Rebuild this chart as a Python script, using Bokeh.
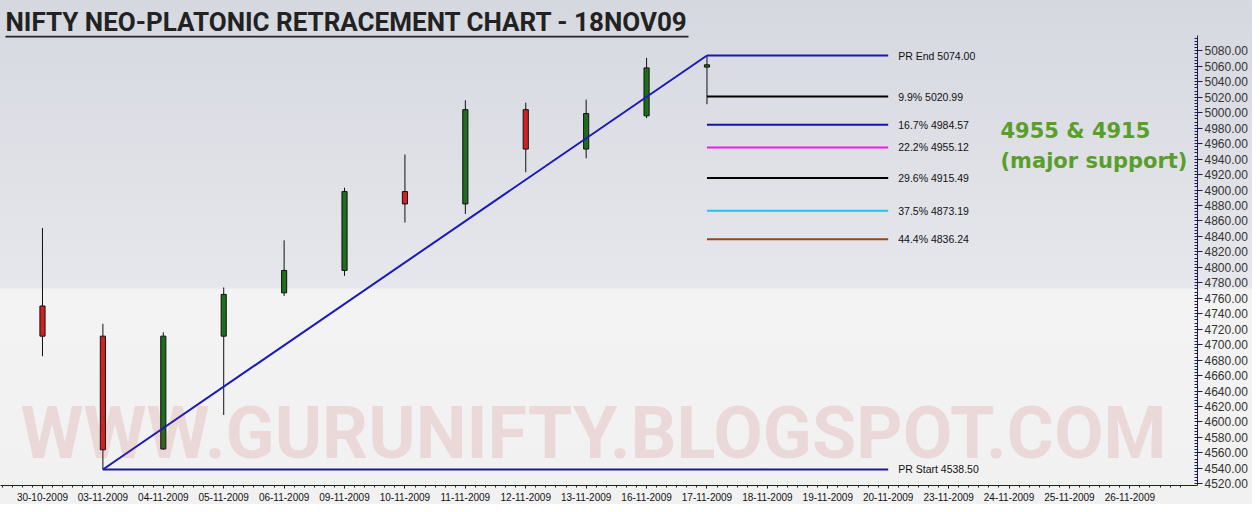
from bokeh.plotting import figure
from bokeh.models import (FixedTicker, SingleIntervalTicker, NumeralTickFormatter,
                          Label, BoxAnnotation, Range1d)
from bokeh.embed import file_html
from bokeh.resources import INLINE
from bokeh.core.properties import value

# ---------------- data ----------------
candle_dates = ["30-10-2009", "03-11-2009", "04-11-2009", "05-11-2009", "06-11-2009",
                "09-11-2009", "10-11-2009", "11-11-2009", "12-11-2009", "13-11-2009",
                "16-11-2009", "17-11-2009"]
opens = [4750, 4711, 4565, 4711, 4767, 4796, 4898, 4882, 5004, 4953, 4996, 5059]
highs = [4851, 4727, 4716, 4774, 4835, 4903, 4946, 5016, 5013, 5017, 5071, 5074]
lows = [4685, 4538.5, 4564, 4609, 4763, 4789, 4858, 4869, 4923, 4941, 4993, 5011]
closes = [4711, 4564, 4711, 4765, 4796, 4898, 4882, 5004, 4953, 4999, 5058, 5062]

future_dates = ["18-11-2009", "19-11-2009", "20-11-2009", "23-11-2009", "24-11-2009",
                "25-11-2009", "26-11-2009"]
axis_dates = candle_dates + future_dates

level_names = ["PR End", "9.9%", "16.7%", "22.2%", "29.6%", "37.5%", "44.4%", "PR Start"]
level_values = [5074.00, 5020.99, 4984.57, 4955.12, 4915.49, 4873.19, 4836.24, 4538.50]
level_colors = ["#1414c0", "#000000", "#1414a8", "#e81ee8", "#000000", "#22c2ea",
                "#a0420e", "#1c1c8c"]

pr_start_date = "03-11-2009"
pr_end_date = "17-11-2009"
projection_date = "20-11-2009"

title_text = "NIFTY NEO-PLATONIC RETRACEMENT CHART - 18NOV09"
note_lines = ["4955 & 4915", "(major support)"]
watermark_text = "WWW.GURUNIFTY.BLOGSPOT.COM"

# ---------------- figure ----------------
p = figure(width=1252, height=504, output_backend="svg", toolbar_location=None,
           x_range=Range1d(-0.695, 19.12), y_range=Range1d(4517.8, 5099.9),
           y_axis_location="right", min_border_left=0, min_border_right=55,
           min_border_top=35, min_border_bottom=19)
p.background_fill_alpha = 0
p.border_fill_alpha = 0
p.outline_line_color = None
p.styles = {"background": "linear-gradient(to bottom, #d6d8e0 0%, #e6e7ec 57%, "
                          "#f3f3f3 57.5%, #f1f1f1 100%)"}
p.xgrid.visible = False
p.ygrid.visible = False

# title
p.title.text = title_text
p.title.align = "left"
p.title.offset = 5
p.title.standoff = -2
p.title.text_font = "Roboto"
p.title.text_font_style = "bold"
p.title.text_font_size = "26px"
p.title.text_color = "#222222"
p.add_layout(BoxAnnotation(left=5, right=688, bottom=448, top=450,
                           left_units="screen", right_units="screen",
                           top_units="screen", bottom_units="screen",
                           fill_color="#222222", fill_alpha=1, line_color=None))

# watermark
p.add_layout(Label(x=20, y=10, x_units="screen", y_units="screen", text=watermark_text,
                   text_font="Roboto", text_font_style="bold",
                   text_font_size="72px", text_color="#c02828", text_alpha=0.12))

# candles
xi = list(range(len(candle_dates)))
tops = [max(o, c) for o, c in zip(opens, closes)]
bots = [min(o, c) for o, c in zip(opens, closes)]
fills = ["#1f6e1f" if c >= o else "#d42020" for o, c in zip(opens, closes)]
p.segment(x0=xi, y0=lows, x1=xi, y1=highs, line_color="#111111", line_width=1)
p.vbar(x=xi, width=0.085, top=tops, bottom=bots, fill_color=fills,
       line_color="#111111", line_width=1)

# retracement construction
i_start = axis_dates.index(pr_start_date)
i_end = axis_dates.index(pr_end_date)
i_proj = axis_dates.index(projection_date)

x0s = [i_end] * (len(level_values) - 1) + [i_start]
x1s = [i_proj] * len(level_values)
p.segment(x0=x0s, y0=level_values, x1=x1s, y1=level_values,
          line_color=level_colors, line_width=2)
p.line([i_start, i_end], [level_values[-1], level_values[0]],
       line_color="#1a1ab8", line_width=2)

labels = [f"{n} {v:.2f}" for n, v in zip(level_names, level_values)]
p.text(x=x1s, y=level_values, text=labels, x_offset=10, text_baseline="middle",
       text_font=value("Liberation Sans"), text_font_size="10.5px", text_color="#111111")

# note
p.add_layout(Label(x=1000, y=343, x_units="screen", y_units="screen", text=note_lines[0],
                   text_font="DejaVu Sans", text_font_style="bold",
                   text_font_size="21px", text_color="#5a9e2a"))
p.add_layout(Label(x=1000, y=313, x_units="screen", y_units="screen", text=note_lines[1],
                   text_font="DejaVu Sans", text_font_style="bold",
                   text_font_size="21px", text_color="#5a9e2a"))

# axes
xa = p.xaxis[0]
xa.ticker = FixedTicker(ticks=list(range(len(axis_dates))),
                        minor_ticks=[i + k / 6 for i in range(-1, len(axis_dates) + 1)
                                     for k in range(1, 6)])
xa.major_label_overrides = {i: d for i, d in enumerate(axis_dates)}
xa.major_label_text_font = "Liberation Sans"
xa.major_label_text_font_size = "10px"
xa.major_label_text_color = "#111111"
xa.axis_line_color = "#1c1c50"
xa.major_tick_line_color = "#1c1c50"
xa.minor_tick_line_color = "#1c1c50"
xa.major_tick_out = 3
xa.major_tick_in = 0
xa.minor_tick_out = 2
xa.minor_tick_in = 0
xa.major_label_standoff = 4

ya = p.yaxis[0]
ya.ticker = SingleIntervalTicker(interval=20, num_minor_ticks=5)
ya.formatter = NumeralTickFormatter(format="0.00")
ya.major_label_text_font = "Liberation Sans"
ya.major_label_text_font_size = "12px"
ya.major_label_text_color = "#333333"
ya.axis_line_color = "#1c1c50"
ya.major_tick_line_color = "#1c1c50"
ya.minor_tick_line_color = "#1c1c50"
ya.major_tick_out = 5
ya.major_tick_in = 0
ya.minor_tick_in = 3
ya.minor_tick_out = 0
ya.major_label_standoff = 2

open("out.html", "w").write(file_html(p, INLINE))
